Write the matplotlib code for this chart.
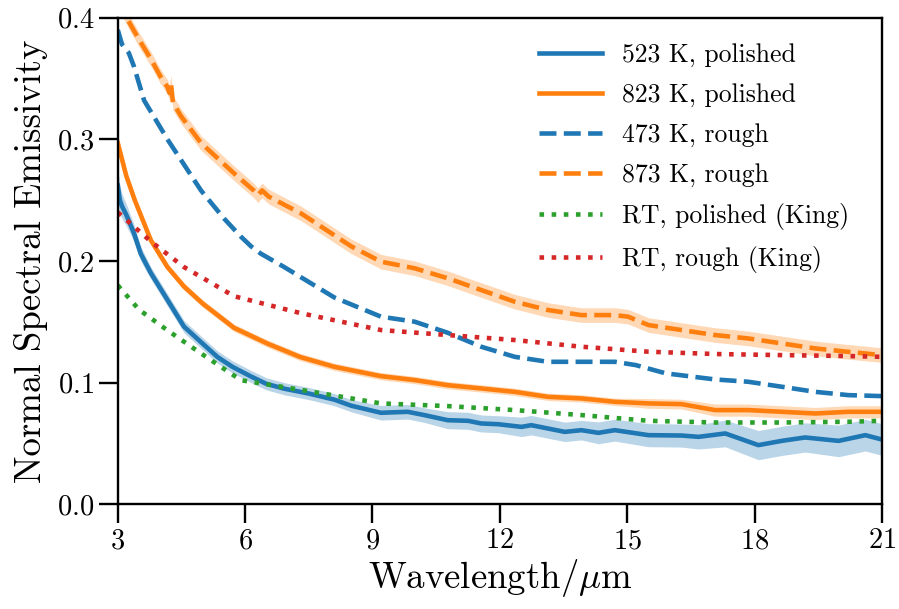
import matplotlib
matplotlib.use("Agg")
import matplotlib.pyplot as plt
import numpy as np

plt.rcParams['font.family'] = 'cmr10'
plt.rcParams['mathtext.fontset'] = 'cm'
plt.rcParams['axes.formatter.use_mathtext'] = True

blue = '#1f77b4'
orange = '#ff7f0e'
green = '#2ca02c'
red = '#d62728'

# 523 K, polished
lam_523 = [3.0, 3.05, 3.1, 3.2, 3.38, 3.54, 3.78, 4.17, 4.56, 5.0, 5.35, 5.7, 6.14, 6.5, 6.92, 7.5, 8.1, 8.5, 9.2,
           9.83, 10.22, 10.77, 11.25, 11.56, 11.96, 12.51, 12.74, 13.53, 13.92, 14.32, 14.71, 15.5, 16.28, 16.68,
           17.31, 18.09, 18.64, 19.19, 19.98, 20.61, 21.0]
eps_523 = [0.262, 0.250, 0.245, 0.238, 0.223, 0.206, 0.190, 0.168, 0.146, 0.132, 0.121, 0.113, 0.105, 0.099, 0.095,
           0.091, 0.086, 0.081, 0.0752, 0.0760, 0.0733, 0.0691, 0.0686, 0.0664, 0.0658, 0.0636, 0.0650, 0.0595,
           0.0609, 0.0587, 0.0609, 0.0568, 0.0565, 0.0554, 0.0582, 0.0486, 0.0521, 0.0549, 0.0521, 0.0568, 0.0532]
err_523 = [0.015, 0.012, 0.010, 0.009, 0.007, 0.006, 0.005, 0.005, 0.005, 0.005, 0.005, 0.005, 0.005, 0.005, 0.005,
           0.005, 0.005, 0.005, 0.006, 0.006, 0.006, 0.007, 0.007, 0.007, 0.007, 0.008, 0.008, 0.008, 0.008, 0.009,
           0.009, 0.0095, 0.0095, 0.010, 0.011, 0.012, 0.012, 0.012, 0.013, 0.013, 0.013]

# 823 K, polished
lam_823 = [3.0, 3.2, 3.4, 3.78, 4.17, 4.56, 5.0, 5.74, 6.53, 7.3, 8.1, 9.2, 9.99, 10.77, 11.56, 12.35, 13.13, 13.92,
           14.71, 15.5, 16.28, 17.07, 17.85, 18.64, 19.43, 20.21, 21.0]
eps_823 = [0.297, 0.270, 0.250, 0.217, 0.195, 0.179, 0.165, 0.145, 0.132, 0.121, 0.113, 0.1053, 0.1021, 0.0979,
           0.0952, 0.0924, 0.0883, 0.0870, 0.0842, 0.0829, 0.0823, 0.0774, 0.0774, 0.0760, 0.0746, 0.0760, 0.0760]
err_823 = [0.004, 0.003, 0.003, 0.003, 0.003, 0.003, 0.003, 0.003, 0.003, 0.003, 0.003, 0.003, 0.003, 0.003,
           0.003, 0.003, 0.003, 0.003, 0.003, 0.004, 0.004, 0.005, 0.005, 0.005, 0.005, 0.005, 0.005]

# 473 K, rough
lam_473 = [3.0, 3.1, 3.26, 3.38, 3.62, 4.17, 4.96, 5.5, 5.9, 6.14, 6.37, 6.92, 8.1, 9.2, 9.99, 10.77, 11.56, 12.35,
           13.13, 13.92, 14.71, 15.2, 15.91, 17.07, 17.85, 18.64, 19.43, 20.21, 21.0]
eps_473 = [0.390, 0.378, 0.371, 0.360, 0.332, 0.300, 0.258, 0.235, 0.220, 0.212, 0.206, 0.195, 0.170, 0.1542,
           0.1501, 0.1410, 0.1295, 0.1212, 0.1171, 0.1171, 0.1171, 0.1144, 0.1076, 0.1026, 0.1007, 0.0966, 0.0924,
           0.0897, 0.0889]

# 873 K, rough
lam_873 = [3.0, 3.24, 3.5, 3.78, 4.0, 4.17, 4.22, 4.25, 4.3, 4.49, 4.96, 5.74, 6.2, 6.3, 6.4, 6.55, 7.32, 8.5, 9.2,
           9.99, 10.77, 11.56, 12.35, 13.13, 13.92, 14.71, 15.02, 15.5, 16.28, 17.07, 17.85, 18.64, 19.43, 20.21, 21.0]
eps_873 = [0.415, 0.398, 0.382, 0.366, 0.352, 0.343, 0.338, 0.347, 0.330, 0.319, 0.297, 0.272, 0.258, 0.254, 0.258,
           0.253, 0.239, 0.212, 0.1994, 0.1940, 0.1858, 0.1761, 0.1665, 0.1597, 0.1555, 0.1555, 0.1542, 0.1473,
           0.1432, 0.1391, 0.1363, 0.1322, 0.1281, 0.1253, 0.1226]
err_873 = [0.006] * len(lam_873)

# RT, polished (King)
lam_kp = [3.0, 3.5, 4.17, 4.96, 5.9, 7.32, 9.2, 10.77, 12.35, 13.92, 15.5, 17.07, 18.64, 20.21, 21.0]
eps_kp = [0.180, 0.160, 0.143, 0.124, 0.102, 0.094, 0.0829, 0.0807, 0.0774, 0.0733, 0.0686, 0.0672, 0.0672,
          0.0678, 0.0686]

# RT, rough (King)
lam_kr = [3.0, 3.78, 4.56, 5.74, 7.32, 9.2, 10.77, 12.35, 13.92, 15.5, 17.07, 18.64, 20.21, 21.0]
eps_kr = [0.240, 0.216, 0.195, 0.171, 0.157, 0.1432, 0.1391, 0.1350, 0.1295, 0.1254, 0.1235, 0.1226, 0.1218, 0.1212]

fig = plt.figure(figsize=(8.99, 6.09), dpi=100)
ax = fig.add_axes([0.131, 0.172, 0.850, 0.799])

lw = 3.3
def arr(a):
    return np.asarray(a, dtype=float)

ax.fill_between(lam_523, arr(eps_523) - arr(err_523), arr(eps_523) + arr(err_523), color=blue, alpha=0.3, lw=0)
ax.plot(lam_523, eps_523, color=blue, lw=lw, ls='-', label='523 K, polished')
ax.fill_between(lam_823, arr(eps_823) - arr(err_823), arr(eps_823) + arr(err_823), color=orange, alpha=0.3, lw=0)
ax.plot(lam_823, eps_823, color=orange, lw=lw, ls='-', label='823 K, polished')
ax.plot(lam_473, eps_473, color=blue, lw=lw, ls='--', label='473 K, rough')
ax.fill_between(lam_873, arr(eps_873) - arr(err_873), arr(eps_873) + arr(err_873), color=orange, alpha=0.3, lw=0)
ax.plot(lam_873, eps_873, color=orange, lw=lw, ls='--', label='873 K, rough')
ax.plot(lam_kp, eps_kp, color=green, lw=lw, ls=':', label='RT, polished (King)')
ax.plot(lam_kr, eps_kr, color=red, lw=lw, ls=':', label='RT, rough (King)')

ax.set_xlim(3, 21)
ax.set_ylim(0, 0.4)
ax.set_xticks([3, 6, 9, 12, 15, 18, 21])
ax.set_yticks([0.0, 0.1, 0.2, 0.3, 0.4])
ax.tick_params(axis='both', direction='out', length=13.5, width=1.7, labelsize=20.5, pad=3.5)
for s in ax.spines.values():
    s.set_linewidth(1.7)
ax.set_xlabel(r'Wavelength/$\mu$m', fontsize=26.5, labelpad=2)
ax.set_ylabel('Normal Spectral Emissivity', fontsize=26.5, labelpad=6)

ax.legend(loc='upper right', bbox_to_anchor=(0.988, 0.995), frameon=False, fontsize=18.5, handlelength=2.45,
          labelspacing=0.62, borderaxespad=0.5, handletextpad=0.8)

fig.savefig('out.png', dpi=100)
